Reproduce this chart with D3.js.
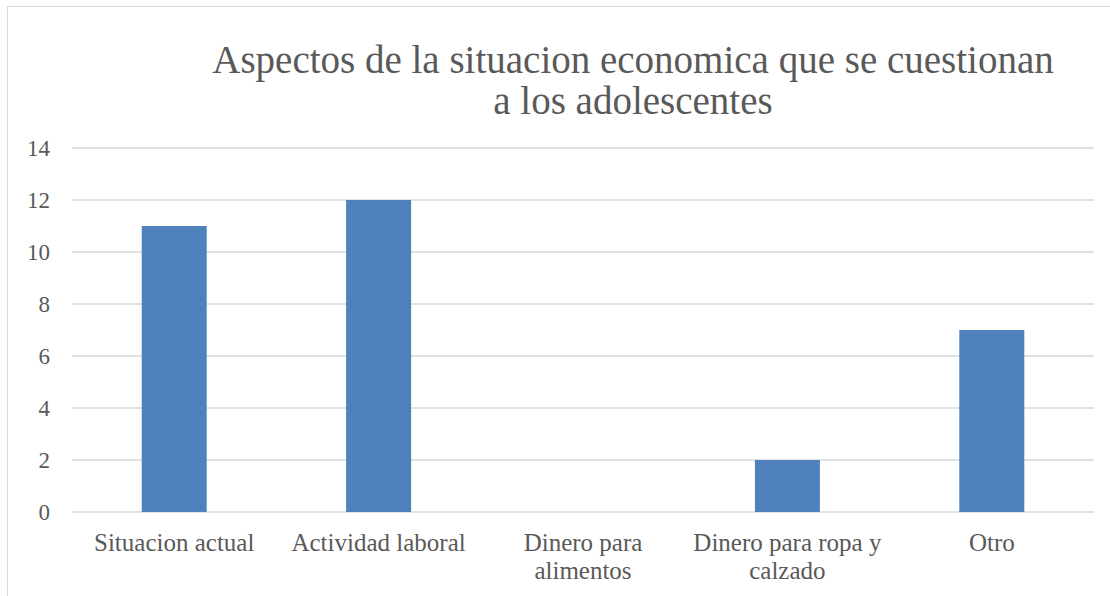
<!DOCTYPE html>
<html><head><meta charset="utf-8">
<script src="https://cdn.jsdelivr.net/npm/d3@7"></script>
<style>body{margin:0;background:#fff}svg{display:block}</style>
</head><body>
<script>
const categories = [["Situacion actual"], ["Actividad laboral"], ["Dinero para", "alimentos"], ["Dinero para ropa y", "calzado"], ["Otro"]];
const values = [11, 12, 0, 2, 7];
const yTicks = [0, 2, 4, 6, 8, 10, 12, 14];
const titleLines = ["Aspectos de la situacion economica que se cuestionan", "a los adolescentes"];

const W = 1110, H = 596;
const m = {left: 72, right: 16, top: 148, bottom: 84};
const svg = d3.select("body").append("svg").attr("width", W).attr("height", H);
svg.append("rect").attr("x", 7.5).attr("y", 6.5).attr("width", W).attr("height", H)
  .attr("fill", "#fff").attr("stroke", "#d9d9d9").attr("stroke-width", 1);

const font = "'Liberation Serif', 'DejaVu Serif', serif";
const x = d3.scaleBand().domain(d3.range(values.length)).range([m.left, W - m.right])
  .paddingInner(0.682).paddingOuter(0.341);
const y = d3.scaleLinear().domain([0, 14]).range([H - m.bottom, m.top]);

const g = svg.append("g");
g.selectAll("line.grid").data(yTicks).join("line").attr("class", "grid")
  .attr("x1", m.left).attr("x2", W - m.right)
  .attr("y1", d => y(d)).attr("y2", d => y(d))
  .attr("stroke", "#d9d9d9").attr("stroke-width", 1.5);

const yAxis = d3.axisLeft(y).tickValues(yTicks).tickSize(0).tickPadding(0);
const ya = svg.append("g").attr("transform", `translate(${m.left - 22},0)`).call(yAxis);
ya.select(".domain").remove();
ya.selectAll("text").attr("font-family", font).attr("font-size", 23).attr("fill", "#595959").attr("dy", "0.33em");

g.selectAll("rect.bar").data(values).join("rect").attr("class", "bar")
  .attr("x", (d, i) => x(i)).attr("width", x.bandwidth())
  .attr("y", d => y(d)).attr("height", d => y(0) - y(d))
  .attr("fill", "#4f81bd");

const xa = svg.append("g");
categories.forEach((lines, i) => {
  const t = xa.append("text").attr("x", x(i) + x.bandwidth() / 2).attr("y", 551)
    .attr("text-anchor", "middle").attr("font-family", font).attr("font-size", 25).attr("fill", "#595959");
  lines.forEach((l, k) => t.append("tspan").attr("x", x(i) + x.bandwidth() / 2).attr("dy", k ? 28 : 0).text(l));
});

const tt = svg.append("text").attr("text-anchor", "middle").attr("font-family", font)
  .attr("font-size", 39).attr("fill", "#595959");
titleLines.forEach((l, k) => tt.append("tspan").attr("x", 633).attr("y", 73 + k * 41).text(l));
</script>
</body></html>
